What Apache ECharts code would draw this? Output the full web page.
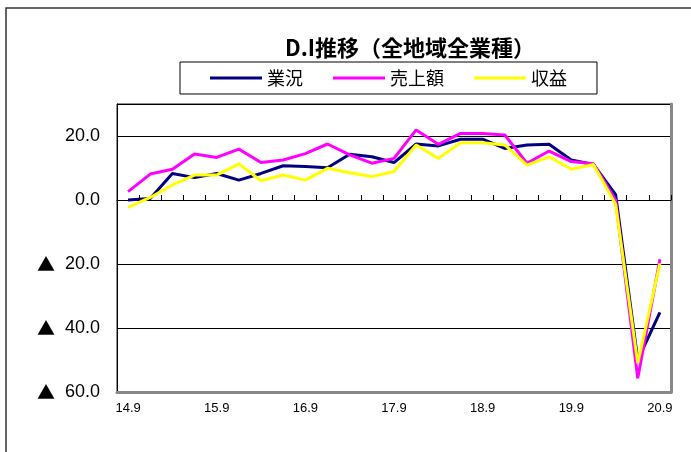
<!DOCTYPE html>
<html>
<head>
<meta charset="utf-8">
<script src="https://cdn.jsdelivr.net/npm/echarts@6/dist/echarts.min.js"></script>
<style>
  html, body { margin: 0; padding: 0; background: #fff; }
  #chart { width: 691px; height: 452px; }
</style>
</head>
<body>
<div id="chart"></div>
<script>
// Quarterly periods (year.month), Sept 2014 – Sept 2020
const periods = [
  '14.9', '14.12', '15.3', '15.6', '15.9', '15.12', '16.3', '16.6',
  '16.9', '16.12', '17.3', '17.6', '17.9', '17.12', '18.3', '18.6',
  '18.9', '18.12', '19.3', '19.6', '19.9', '19.12', '20.3', '20.6', '20.9'
];

// D.I values per period
const gyokyo = [
  0.0, 0.5, 8.3, 7.0, 8.3, 6.2, 8.3, 10.7,
  10.5, 10.1, 14.3, 13.5, 11.7, 17.5, 16.9, 19.0,
  19.0, 16.1, 17.2, 17.4, 12.5, 11.1, 1.7, -50.0, -35.1
];
const uriage = [
  2.6, 8.1, 9.6, 14.4, 13.3, 15.9, 11.7, 12.5,
  14.5, 17.5, 14.1, 11.5, 13.0, 21.9, 17.4, 20.8,
  20.8, 20.3, 11.5, 15.3, 12.0, 11.3, 0.0, -55.7, -18.5
];
const shueki = [
  -2.3, 0.8, 4.7, 7.8, 7.8, 11.3, 6.0, 7.8,
  6.2, 9.9, 8.5, 7.3, 8.9, 17.2, 13.0, 17.9,
  17.9, 17.2, 10.9, 13.5, 9.6, 11.1, -1.3, -51.0, -19.8
];

const seriesNames = ['業況', '売上額', '収益'];
const seriesColors = ['#000080', '#FF00FF', '#FFFF00'];
const seriesData = [gyokyo, uriage, shueki];

const chart = echarts.init(document.getElementById('chart'), null, { renderer: 'canvas' });

// Negative values are written with a leading ▲ instead of a minus sign
const yLabel = v => {
  if (v > 20) return '';
  return v < 0 ? '{tri|▲}  ' + Math.abs(v).toFixed(1) : v.toFixed(1);
};

const option = {
  animation: false,
  backgroundColor: '#fff',
  graphic: [
    {
      type: 'rect',
      shape: { x: 6, y: 8, width: 900, height: 600 },
      style: { fill: 'none', stroke: '#333', lineWidth: 1.5 },
      silent: true
    },
    {
      type: 'text',
      x: 410, y: 48,
      style: {
        text: 'D.I推移（全地域全業種）',
        font: 'bold 22px "Noto Sans CJK JP", sans-serif',
        fill: '#000',
        align: 'center',
        verticalAlign: 'middle'
      }
    }
  ],
  legend: {
    data: seriesNames,
    left: 180,
    top: 62,
    orient: 'horizontal',
    icon: 'rect',
    itemWidth: 52,
    itemHeight: 3,
    itemGap: 30,
    padding: [7, 30, 7, 30],
    borderColor: '#000',
    borderWidth: 1,
    textStyle: {
      fontSize: 18,
      fontFamily: '"Noto Sans CJK JP", sans-serif',
      color: '#000'
    }
  },
  grid: {
    left: 117, right: 20, top: 104, bottom: 60,
    show: true,
    borderColor: '#222',
    borderWidth: 1,
    backgroundColor: '#fff'
  },
  xAxis: [
    {
      type: 'category',
      data: periods,
      position: 'bottom',
      boundaryGap: true,
      axisLine: { onZero: false, lineStyle: { color: '#888', width: 3 } },
      axisTick: { show: false },
      axisLabel: {
        interval: 3,
        margin: 10,
        fontSize: 13,
        fontFamily: '"Liberation Sans Narrow", "Arial Narrow", "Liberation Sans", sans-serif',
        color: '#000'
      },
      splitLine: { show: false }
    },
    {
      type: 'category',
      data: periods,
      position: 'top',
      boundaryGap: true,
      axisLine: { onZero: true, onZeroAxisIndex: 0, lineStyle: { color: '#000', width: 1 } },
      axisTick: { show: true, interval: 0, length: 5, inside: false, lineStyle: { color: '#000' } },
      axisLabel: { show: false },
      splitLine: { show: false }
    }
  ],
  yAxis: [
    {
      type: 'value',
      min: -60,
      max: 30,
      interval: 20,
      axisLine: { show: true, lineStyle: { color: '#000', width: 1 } },
      axisTick: { show: false },
      axisLabel: {
        formatter: yLabel,
        margin: 17,
        fontSize: 18,
        fontFamily: '"Liberation Sans", Arial, sans-serif',
        color: '#000',
        rich: {
          tri: {
            fontSize: 18,
            fontFamily: '"Noto Sans CJK JP", sans-serif',
            color: '#000'
          }
        }
      },
      splitLine: { show: true, lineStyle: { color: '#000', width: 1 } }
    },
    {
      type: 'value',
      min: -60,
      max: 30,
      interval: 20,
      position: 'right',
      axisLine: { show: true, lineStyle: { color: '#888', width: 3 } },
      axisTick: { show: false },
      axisLabel: { show: false },
      splitLine: { show: false }
    }
  ],
  series: seriesNames.map((name, i) => ({
    name,
    type: 'line',
    data: seriesData[i],
    xAxisIndex: 0,
    yAxisIndex: 0,
    symbol: 'none',
    smooth: false,
    lineStyle: { color: seriesColors[i], width: 3 },
    itemStyle: { color: seriesColors[i] },
    z: 3 + i
  }))
};

chart.setOption(option);
</script>
</body>
</html>
